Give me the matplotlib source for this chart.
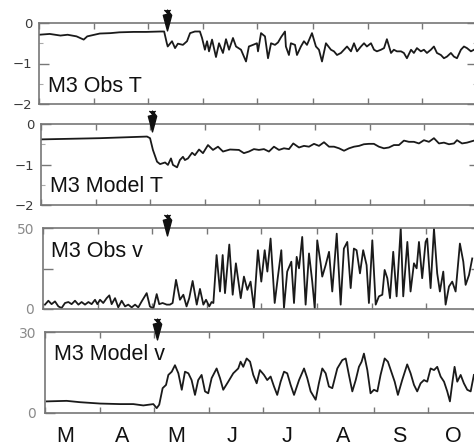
import numpy as np
import matplotlib
matplotlib.use("Agg")
import matplotlib.pyplot as plt
from matplotlib.path import Path

plt.rcParams['font.family'] = ['Liberation Sans', 'DejaVu Sans']

# ---- data (x = days since 1 March) ----
month_lengths = [31, 30, 31, 30, 31, 31, 30, 31]
month_labels = ['M', 'A', 'M', 'J', 'J', 'A', 'S', 'O']

obsT_day = [0, 6, 12, 16, 21, 25, 27, 34, 40, 45, 53, 60, 68, 70, 71.5, 72, 74.4, 76.1, 77.7, 80.5,
            82.8, 84.5, 87.2, 90, 91.2, 92.8, 94, 95.1, 96.8, 99, 100.7, 102.9, 104.6, 106.3, 108.5,
            110.2, 113, 115.8, 117.4, 119.7, 121.9, 122.5, 124.2, 126.4, 128.1, 129.8, 132, 133.7,
            135.4, 137.6, 138.1, 139.8, 140.9, 143.2, 144.3, 146.5, 148.2, 149.9, 152.7, 154.9,
            156.6, 158.3, 160.5, 163.3, 165, 166.7, 168.9, 170.6, 172.3, 174.5, 176.2, 177.9,
            180.1, 181.8, 183.4, 185.7, 187.4, 189, 191.3, 193, 194.6, 196.9, 198.5, 200.2, 202.5,
            204.1, 205.8, 208.1, 209.7, 211.4, 213.6, 215.3, 217, 219.2, 220.9, 222.6, 224.8,
            226.5, 228.2, 230.4, 232.1, 233.8, 236, 237.7, 239.4, 241.6, 243.3]
obsT_val = [-0.29, -0.27, -0.31, -0.29, -0.33, -0.41, -0.33, -0.26, -0.25, -0.23, -0.22, -0.22, -0.21,
            -0.21, -0.50, -0.58, -0.45, -0.62, -0.51, -0.54, -0.45, -0.25, -0.21, -0.21, -0.37, -0.66,
            -0.45, -0.70, -0.41, -0.84, -0.50, -0.74, -0.40, -0.66, -0.37, -0.58, -0.66, -0.95, -0.58,
            -0.54, -0.50, -0.70, -0.25, -0.33, -0.87, -0.50, -0.54, -0.48, -0.35, -0.21, -0.58, -0.79,
            -0.50, -0.54, -0.79, -0.58, -0.45, -0.54, -0.25, -0.58, -0.66, -0.95, -0.50, -0.66, -0.70,
            -0.79, -0.74, -0.66, -0.58, -0.70, -0.50, -0.70, -0.58, -0.50, -0.58, -0.50, -0.66, -0.70,
            -0.66, -0.62, -0.40, -0.74, -0.66, -0.70, -0.70, -0.74, -0.87, -0.66, -0.74, -0.62, -0.70,
            -0.66, -0.74, -0.66, -0.58, -0.74, -0.79, -0.87, -0.83, -0.74, -0.83, -0.87, -0.66, -0.58,
            -0.62, -0.70, -0.66]

modT_day = [0, 33, 59.3, 61, 62.6, 64.9, 66.6, 69.4, 71, 72.7, 73.8, 76.1, 77.7, 79.4, 80.5, 82.2,
            84.5, 86.1, 88.4, 90.6, 93.4, 96.2, 99, 101.8, 105.7, 110.7, 113.5, 116.3, 119.1, 121.9,
            124.7, 127.5, 130.3, 133.1, 135.9, 138.7, 141.1, 144.3, 147.1, 149.9, 152.7, 155.5,
            158.3, 161.1, 163.9, 166.7, 169.5, 172.3, 175.1, 177.9, 180.6, 183.4, 186.2, 189,
            191.8, 194.6, 197.4, 200.2, 203, 205.8, 208.6, 211.4, 214.2, 217, 219.8, 222.6, 225.4,
            228.2, 231, 232.7, 235.5, 238.3, 242.2]
modT_val = [-0.38, -0.35, -0.31, -0.35, -0.64, -0.93, -0.99, -0.95, -1.01, -0.85, -1.01, -1.07, -0.89,
            -0.81, -0.89, -0.85, -0.71, -0.77, -0.63, -0.72, -0.52, -0.64, -0.56, -0.68, -0.63, -0.64,
            -0.72, -0.68, -0.62, -0.64, -0.62, -0.68, -0.56, -0.64, -0.60, -0.62, -0.48, -0.58, -0.54,
            -0.56, -0.49, -0.54, -0.45, -0.56, -0.56, -0.60, -0.66, -0.60, -0.56, -0.54, -0.50, -0.49,
            -0.49, -0.56, -0.60, -0.58, -0.52, -0.52, -0.41, -0.44, -0.44, -0.48, -0.40, -0.44, -0.35,
            -0.48, -0.46, -0.50, -0.48, -0.40, -0.48, -0.46, -0.41]

obsV_day = [1.1, 3.0, 4.8, 6.7, 8.6, 10.4, 12.3, 14.2, 16.0, 17.9, 19.8, 21.6, 23.5, 25.4, 27.2, 29.1,
            30.4, 31.9, 33.7, 35.6, 37.1, 38.4, 40.3, 42.1, 44.0, 45.9, 47.7, 49.6, 51.5, 53.3, 55.2,
            58.0, 59.8, 61.7, 63.6, 65.0, 66.9, 69.2, 71.0, 72.5, 74.4, 76.6, 78.5, 80.3, 81.8, 83.7,
            86.0, 87.8, 89.7, 91.2, 93.0, 94.3, 95.3, 97.1, 99.0, 100.5, 101.8, 104.2, 106.1, 107.9,
            110.6, 112.4, 114.3, 116.1, 118.0, 120.2, 122.1, 124.0, 125.5, 127.3, 129.6, 131.4,
            133.3, 134.8, 136.6, 138.9, 140.4, 141.9, 143.2, 145.0, 146.9, 148.8, 150.6, 152.0,
            153.4, 155.3, 156.2, 158.1, 160.0, 161.8, 164.3, 166.5, 168.3, 170.2, 172.1, 173.9,
            175.4, 177.3, 179.1, 181.0, 182.3, 184.2, 186.1, 187.9, 189.8, 191.1, 192.6, 194.1,
            195.9, 197.8, 200.1, 201.5, 203.8, 205.6, 207.5, 209.0, 210.3, 212.1, 214.0, 214.9,
            216.8, 218.7, 220.5, 222.0, 223.9, 225.2, 227.1, 228.9, 230.8, 233.2, 235.1, 236.4,
            238.3, 240.1]
obsV_val = [2.7, 5.1, 3.0, 4.7, 1.6, 0.6, 3.7, 4.3, 3.0, 5.1, 2.7, 4.3, 2.7, 4.3, 3.0, 5.7,
            3.0, 5.7, 3.7, 6.7, 8.4, 3.0, 6.7, 1.0, 5.1, 1.6, 2.7, 1.0, 2.7, 1.0, 4.7,
            9.8, 1.6, 0.2, 9.2, 3.0, 3.7, 2.7, 2.7, 3.7, 18.0, 5.7, 8.8, 1.6, 6.7, 17.3,
            2.7, 12.4, 2.7, 5.7, 1.6, 4.3, 3.7, 33.3, 10.8, 33.3, 9.8, 39.8, 8.8, 28.2,
            6.7, 20.0, 11.8, 16.9, 0.6, 36.3, 16.9, 36.3, 23.1, 43.5, 3.7, 20.0,
            36.3, 0.6, 23.1, 29.2, 3.7, 32.2, 25.1, 44.5, 2.7, 34.3, 16.9, 0.3,
            42.4, 28.2, 20.0, 27.1, 35.3, 10.8, 46.5, 2.7, 37.3, 41.4, 12.9, 37.3,
            36.3, 22.0, 36.3, 27.1, 3.7, 42.4, 2.7, 7.8, 8.8, 24.1, 19.0, 6.7,
            35.3, 7.8, 50.0, 7.8, 41.4, 10.8, 28.2, 25.1, 41.4, 19.0, 41.4, 43.5,
            12.9, 49.6, 22.0, 10.8, 23.1, 2.7, 13.9, 16.9, 10.8, 40.4, 29.2, 14.9,
            21.0, 31.2]

modV_day = [0.9, 12.1, 19.6, 30.8, 41.9, 49.4, 55.0, 60.6, 62.5, 63.9, 65.8, 67.7, 69.0, 70.9, 72.7,
            74.6, 76.5, 78.3, 80.2, 82.0, 83.9, 85.7, 87.6, 89.5, 91.3, 93.2, 96.0, 97.9, 99.7,
            102.5, 105.3, 108.1, 109.4, 110.9, 112.8, 114.7, 116.5, 118.4, 120.2, 122.5, 124.3,
            126.2, 128.1, 129.9, 131.8, 133.7, 135.5, 137.4, 139.3, 142.1, 144.9, 146.7, 148.6,
            151.4, 153.2, 155.1, 157.0, 158.8, 160.7, 163.5, 166.3, 168.2, 170.0, 171.9, 173.8,
            175.6, 177.1, 178.4, 180.3, 182.1, 184.0, 185.9, 187.7, 190.0, 191.8, 193.7, 195.6,
            197.4, 199.8, 202.6, 204.5, 206.4, 208.2, 210.1, 212.0, 213.8, 215.7, 217.6, 219.4,
            221.3, 223.2, 225.0, 226.5, 227.8, 229.1, 230.6, 232.5, 234.3, 236.2, 238.1, 239.9]
modV_val = [4.3, 4.5, 4.0, 3.5, 3.3, 3.3, 2.8, 3.3, 1.8, 3.1, 9.2, 10.4, 14.1, 15.3, 17.7,
            14.7, 8.6, 15.3, 14.7, 12.2, 6.7, 12.2, 14.1, 8.0, 7.3, 12.9, 16.5, 12.9, 8.6,
            11.6, 14.7, 16.5, 19.0, 17.1, 20.2, 19.0, 14.1, 11.0, 15.9, 14.1, 12.2,
            13.5, 9.8, 6.7, 11.6, 15.3, 14.7, 10.4, 6.7, 12.2, 16.5, 12.9, 8.0,
            4.9, 11.0, 16.5, 14.7, 9.8, 9.2, 16.5, 19.6, 20.2, 14.1, 8.0, 12.2,
            17.1, 19.0, 22.0, 15.9, 7.3, 8.6, 8.0, 14.1, 20.2, 19.0, 15.3, 11.6,
            6.7, 12.2, 18.0, 14.7, 10.4, 8.0, 11.0, 12.2, 11.6, 16.5, 15.9, 17.1,
            13.5, 11.6, 8.0, 4.3, 11.0, 17.1, 11.6, 14.1, 11.0, 8.6, 8.0, 14.1]

arrow_days = [71.6, 62.1, 69.4, 62.6]
panel_titles = ['M3 Obs T', 'M3 Model T', 'M3 Obs v', 'M3 Model v']

# ---- layout ----
W, H = 474, 447
fig = plt.figure(figsize=(W / 100, H / 100), dpi=100)

month_starts = np.concatenate([[0], np.cumsum(month_lengths)])
label_pos = month_starts[:-1] + np.linspace(11.5, 14.5, len(month_labels))

# (left, top, bottom) in pixels
boxes = [(39, 23, 104), (41, 124, 205), (43, 228, 309), (45, 332, 413)]
axw = 438

series = [(obsT_day, obsT_val), (modT_day, modT_val), (obsV_day, obsV_val), (modV_day, modV_val)]
ylims = [(-2, 0), (-2, 0), (0, 50), (0, 30)]
yticks = [[-2, -1, 0], [-2, -1, 0], [0, 25, 50], [0, 30]]
yminor = [[-1.5, -0.5], [-1.5, -0.5], [], []]
yticklabels = [['\u22122', '\u22121', '0'], ['\u22122', '\u22121', '0'], ['0', '', '50'], ['0', '30']]
ylab_colors = ['#3a3a3a', '#3a3a3a', '#8a8a8a', '#8a8a8a']
ylab_sizes = [9.5, 9.5, 10, 10]
ylab_pads = [5, 5, 6.5, 6.5]
title_pos = [(9, 0.148), (9, 0.16), (8, 0.645), (9, 0.654)]

# arrow marker: fletched stem with a long narrow head
arrow_verts = [(-0.3, 1.0), (0.0, 0.72), (0.3, 1.0), (0.0, 1.0), (0.0, 0.6),
               (-0.4, 0.5), (0.0, -1.0), (0.4, 0.5), (0.0, 0.6)]
arrow_codes = [Path.MOVETO, Path.LINETO, Path.LINETO, Path.MOVETO, Path.LINETO,
               Path.LINETO, Path.LINETO, Path.LINETO, Path.CLOSEPOLY]
arrow_marker = Path(arrow_verts, arrow_codes)

spine_col = '#777777'
for i, (l, t, b) in enumerate(boxes):
    ax = fig.add_axes([l / W, 1 - b / H, axw / W, (b - t) / H])
    d, v = series[i]
    ax.plot(d, v, color='#1a1a1a', lw=1.3)
    ax.set_xlim(0, month_starts[-1])
    ax.set_ylim(*ylims[i])
    ax.set_xticks(month_starts)
    ax.set_yticks(yticks[i])
    ax.set_yticklabels(yticklabels[i], family='DejaVu Sans')
    if yminor[i]:
        ax.set_yticks(yminor[i], minor=True)
        ax.tick_params(axis='y', which='minor', direction='in', length=3, width=0.8,
                       color='#aaaaaa', right=True)
    for sp in ax.spines.values():
        sp.set_color(spine_col)
        sp.set_linewidth(1.2)
    ax.tick_params(which='major', direction='in', top=True, right=True, length=4.5, width=1,
                   color=spine_col)
    ax.tick_params(axis='y', which='major', length=7, labelcolor=ylab_colors[i],
                   labelsize=ylab_sizes[i], pad=ylab_pads[i])
    if i == 3:
        ax.set_xticklabels([])
        ax.set_xticks(label_pos, minor=True)
        ax.set_xticklabels(month_labels, minor=True)
        ax.tick_params(axis='x', which='minor', length=0, labelsize=15.5, pad=9, labelcolor='#111111')
    else:
        ax.set_xticklabels([])
    tx, ty = title_pos[i]
    ax.text(tx / axw, ty, panel_titles[i], transform=ax.transAxes, fontsize=15.5,
            va='baseline', ha='left', color='#111111')
    ax.plot([arrow_days[i]], [1.0 + 3.0 / (b - t)], transform=ax.get_xaxis_transform(),
            marker=arrow_marker, markersize=15, color='#111111', mec='#111111', mew=1.0,
            clip_on=False, zorder=5)

fig.savefig('out.png', dpi=100)
